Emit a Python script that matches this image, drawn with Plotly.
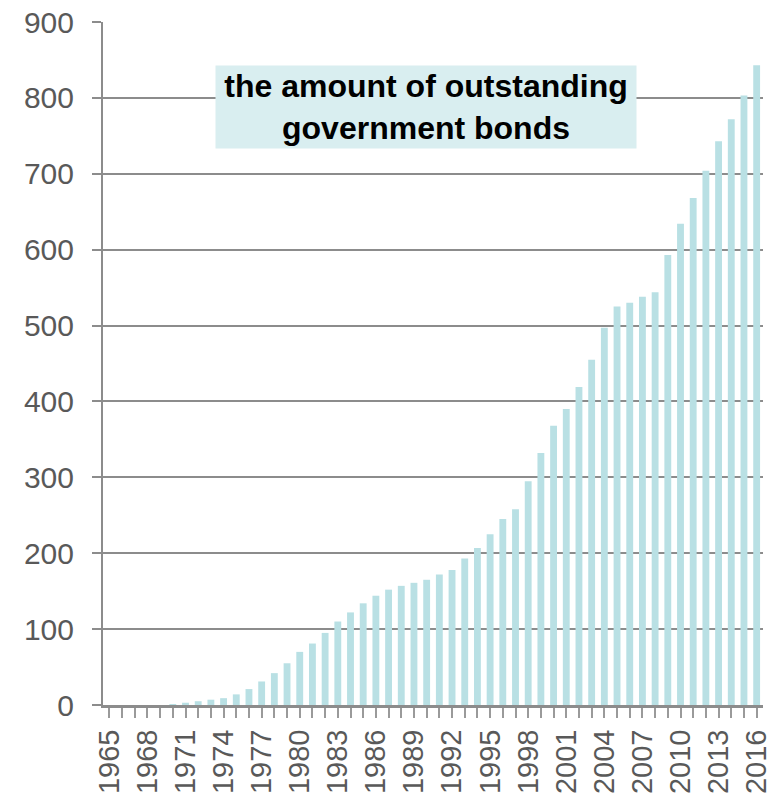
import plotly.graph_objects as go

years = list(range(1965, 2017))
values = [0, 0, 0, 0, 0, 1, 3, 5, 7, 9, 14, 21, 31, 42, 55, 70,
          81, 95, 110, 122, 134, 144, 152, 157, 161, 165, 172, 178, 193, 207,
          225, 245, 258, 295, 332, 368, 390, 419, 455, 497, 525, 530, 538, 544,
          593, 634, 668, 704, 743, 772, 803, 843]
label_years = list(range(1965, 2017, 3))
tick_text = [str(y) if y in label_years else "" for y in years]
y_ticks = [0, 100, 200, 300, 400, 500, 600, 700, 800, 900]

gray = "#8c8c8c"
txt = "#595959"
font_family = "Liberation Sans, Arial, sans-serif"

fig = go.Figure()
fig.add_trace(go.Bar(x=years, y=values, marker=dict(color="#b9e0e4", line=dict(width=0))))

fig.update_layout(
    width=774, height=799,
    margin=dict(l=103, r=11, t=22, b=94),
    plot_bgcolor="white", paper_bgcolor="white",
    bargap=0.46,
    showlegend=False,
    font=dict(family=font_family, color=txt),
    xaxis=dict(
        range=[1964.5, 2016.5], tickmode="array", tickvals=years, ticktext=tick_text,
        tickangle=-90, ticks="outside", ticklen=10, tickwidth=2, tickcolor="#9a9a9a",
        showline=True, linecolor=gray, linewidth=3, showgrid=False,
        tickfont=dict(size=29, color=txt), automargin=False,
        ticklabelstandoff=0, ticklabeloverflow="allow",
    ),
    yaxis=dict(
        range=[0, 900], tickmode="array", tickvals=y_ticks,
        ticks="outside", ticklen=9, tickwidth=2, tickcolor=gray,
        showline=True, linecolor=gray, linewidth=2,
        showgrid=True, gridcolor=gray, gridwidth=2, zeroline=False,
        tickfont=dict(size=30, color=txt), automargin=False,
        ticklabelstandoff=12,
    ),
    annotations=[dict(
        x=0.49, y=0.8757, xref="paper", yref="paper",
        xanchor="center", yanchor="middle",
        text="<b>the amount of outstanding<br>government bonds</b>",
        showarrow=False, bgcolor="#d9eef0", borderpad=0,
        width=420, height=82,
        font=dict(size=32, color="black", family=font_family),
        align="center",
    )],
)

fig.write_html("out.html")
